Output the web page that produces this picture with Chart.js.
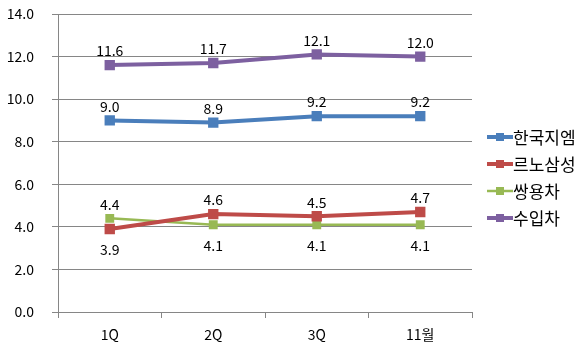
<!DOCTYPE html>
<html>
<head>
<meta charset="utf-8">
<script src="https://cdn.jsdelivr.net/npm/chart.js@4"></script>
<style>
  html, body { margin: 0; padding: 0; background: #fff; }
  #wrap { width: 580px; height: 352px; }
</style>
</head>
<body>
<div id="wrap"><canvas id="myChart" width="580" height="352"></canvas></div>
<script>
// 데이터
var categories = ['1Q', '2Q', '3Q', '11월'];
var gm = [9.0, 8.9, 9.2, 9.2];
var renault = [3.9, 4.6, 4.5, 4.7];
var ssangyong = [4.4, 4.1, 4.1, 4.1];
var imports = [11.6, 11.7, 12.1, 12.0];
var seriesNames = ['한국지엠', '르노삼성', '쌍용차', '수입차'];
var seriesColors = ['#4a7ebb', '#be4b48', '#98b954', '#7d60a0'];
// 라벨 위치: 1 = 위, -1 = 아래
var labelSide = [
  [1, 1, 1, 1],
  [-1, 1, 1, 1],
  [1, -1, -1, -1],
  [1, 1, 1, 1]
];

var FONT = '"Noto Sans CJK KR", "DejaVu Sans", sans-serif';

function makeSet(i, values, width, box) {
  return {
    label: seriesNames[i],
    data: values,
    borderColor: seriesColors[i],
    backgroundColor: seriesColors[i],
    borderWidth: width,
    pointStyle: 'rect',
    pointRadius: box,
    pointHoverRadius: box,
    tension: 0
  };
}

// 데이터 라벨 + 범례 그리기
var labelPlugin = {
  id: 'labels',
  afterDatasetsDraw: function (chart) {
    var ctx = chart.ctx;
    ctx.save();
    ctx.font = '14px ' + FONT;
    ctx.fillStyle = '#000';
    ctx.textAlign = 'center';
    ctx.textBaseline = 'middle';
    chart.data.datasets.forEach(function (ds, i) {
      var meta = chart.getDatasetMeta(i);
      meta.data.forEach(function (pt, j) {
        var side = labelSide[i][j];
        var y = side > 0 ? pt.y - 14 : pt.y + 21;
        ctx.fillText(ds.data[j].toFixed(1), pt.x, y);
      });
    });

    // 범례
    var lx = 487, ly = 137;
    ctx.textAlign = 'left';
    ctx.font = '17px ' + FONT;
    chart.data.datasets.forEach(function (ds, i) {
      var y = ly + i * 27;
      ctx.strokeStyle = ds.borderColor;
      ctx.lineWidth = i === 2 ? 2.5 : 4;
      ctx.beginPath();
      ctx.moveTo(lx, y);
      ctx.lineTo(lx + 26, y);
      ctx.stroke();
      ctx.fillStyle = ds.borderColor;
      ctx.fillRect(lx + 9, y - 4, 8, 8);
      ctx.fillStyle = '#000';
      ctx.fillText(ds.label, lx + 26, y + 1);
    });
    ctx.restore();
  }
};

var ctx = document.getElementById('myChart').getContext('2d');
var myChart = new Chart(ctx, {
  type: 'line',
  data: {
    labels: categories,
    datasets: [
      makeSet(0, gm, 4, 4.5),
      makeSet(1, renault, 4, 4.5),
      makeSet(2, ssangyong, 2.5, 4.5),
      makeSet(3, imports, 4, 4.5)
    ]
  },
  options: {
    responsive: false,
    animation: false,
    events: [],
    layout: { padding: { top: 14, right: 108, bottom: 0, left: 5 } },
    plugins: {
      legend: { display: false },
      tooltip: { enabled: false }
    },
    scales: {
      x: {
        offset: true,
        grid: {
          offset: true,
          drawOnChartArea: false,
          drawTicks: true,
          tickLength: 6,
          color: '#868686'
        },
        border: { color: '#868686', width: 1 },
        ticks: { color: '#000', font: { family: FONT, size: 14 }, padding: 8.5 },
        afterFit: function (scale) { scale.height = 40; }
      },
      y: {
        min: 0,
        max: 14,
        afterFit: function (scale) {
          scale.width = 53;
          scale.paddingTop = 0;
          scale.paddingBottom = 0;
        },
        ticks: {
          stepSize: 2,
          color: '#000',
          font: { family: FONT, size: 14 },
          padding: 18,
          callback: function (v) { return v.toFixed(1); }
        },
        grid: { color: '#868686', tickLength: 6 },
        border: { color: '#868686', width: 1 }
      }
    }
  },
  plugins: [labelPlugin]
});
</script>
</body>
</html>
